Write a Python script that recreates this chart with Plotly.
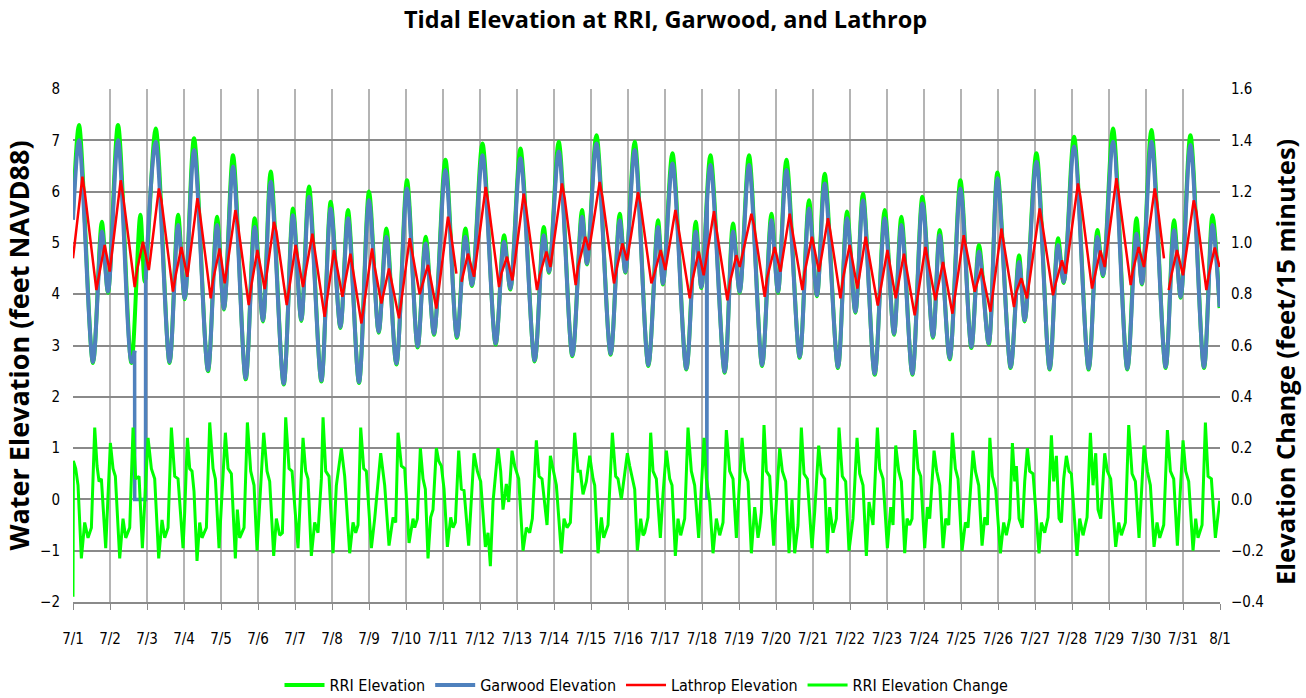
import plotly.graph_objects as go

# ---------------- data (x = days since 7/1 00:00) ----------------
DAY_LABELS = [f"7/{d}" for d in range(1, 32)] + ["8/1"]

# Garwood elevation, ft NAVD88 (high/low turning points); None = missing record
garwood_day = [0.00, 0.163, 0.54, 0.78, 0.946, 1.216, 1.578, 1.665, None, 1.963, 2.235, 2.61, 2.84, 3.02,
               3.271, 3.649, 3.892, 4.081, 4.324, 4.668, 4.911, 5.135, 5.343, 5.695, 5.946, 6.17,
               6.378, 6.713, 6.965, 7.227, 7.432, 7.73, 8.0, 8.262, 8.47, 8.74, 9.027, 9.315,
               9.532, 9.757, 10.065, 10.378, 10.605, 10.784, 11.065, 11.424, 11.65, 11.82, 12.092,
               12.478, 12.722, 12.865, 13.127, 13.497, 13.757, 13.892, 14.146, 14.532, 14.776,
               14.93, 15.181, 15.55, 15.811, 15.946, 16.2, 16.578, 16.83, 16.984, 17.227, 17.614,
               17.838, 18.019, 18.27, 18.625, 18.876, 19.054, 19.281, 19.641, 19.892, 20.108,
               20.316, 20.676, 20.919, 21.146, 21.351, 21.668, 21.938, 22.19, 22.389, 22.686,
               22.957, 23.243, 23.424, 23.695, 23.984, 24.281, 24.486, 24.75, 24.984, 25.343,
               25.568, 25.722, 26.038, 26.397, 26.622, 26.776, 27.054, 27.451, 27.686, 27.838,
               28.108, 28.497, 28.741, 28.892, 29.146, 29.532, 29.757, 29.938, 30.2, 30.568,
               30.795, 30.99]
garwood_ft = [5.45, 7.0, 2.68, 5.22, 4.05, 7.0, 2.68, 2.9, None, 4.3, 6.97, 2.68, 5.35, 3.92,
              6.81, 2.52, 5.35, 3.72, 6.49, 2.36, 5.31, 3.49, 6.19, 2.26, 5.54, 3.5,
              5.9, 2.32, 5.67, 3.36, 5.48, 2.29, 5.83, 3.27, 5.12, 2.65, 6.06, 2.98,
              4.99, 3.23, 6.42, 3.17, 5.12, 4.18, 6.71, 3.04, 5.02, 4.11, 6.65,
              2.71, 5.15, 4.44, 6.78, 2.81, 5.51, 4.6, 6.94, 2.84, 5.44,
              4.44, 6.81, 2.62, 5.31, 4.21, 6.55, 2.55, 5.22, 4.14, 6.52, 2.49,
              5.22, 4.05, 6.52, 2.62, 5.44, 4.05, 6.42, 2.78, 5.67, 3.98,
              6.16, 2.58, 5.48, 3.66, 5.83, 2.45, 5.48, 3.23, 5.35, 2.45,
              5.77, 3.17, 5.15, 2.75, 6.06, 2.97, 4.83, 3.04, 6.26, 2.58,
              4.63, 3.49, 6.58, 2.55, 4.96, 4.24, 6.88, 2.55, 5.12, 4.37,
              6.97, 2.55, 5.18, 4.21, 6.97, 2.58, 5.25, 3.95, 6.91, 2.58,
              5.35, 3.75]

# Garwood sensor dropouts (readings of zero)
dropout_day = [1.665, 1.668, 1.960, 1.963, None, 17.122, 17.132, 17.142]
dropout_ft = [2.9, 0.0, 0.0, 4.3, None, 5.6, 0.0, 5.9]

# RRI elevation, ft NAVD88 (turning points)
rri_day = [0.00, 0.163, 0.54, 0.78, 0.946, 1.216, 1.578, 1.82, 1.94, 2.235, 2.61, 2.84, 3.02,
           3.271, 3.649, 3.892, 4.081, 4.324, 4.668, 4.911, 5.135, 5.343, 5.695, 5.946, 6.17,
           6.378, 6.713, 6.965, 7.227, 7.432, 7.73, 8.0, 8.262, 8.47, 8.74, 9.027, 9.315,
           9.532, 9.757, 10.065, 10.378, 10.605, 10.784, 11.065, 11.424, 11.65, 11.82, 12.092,
           12.478, 12.722, 12.865, 13.127, 13.497, 13.757, 13.892, 14.146, 14.532, 14.776,
           14.93, 15.181, 15.55, 15.811, 15.946, 16.2, 16.578, 16.83, 16.984, 17.227, 17.614,
           17.838, 18.019, 18.27, 18.625, 18.876, 19.054, 19.281, 19.641, 19.892, 20.108,
           20.316, 20.676, 20.919, 21.146, 21.351, 21.668, 21.938, 22.19, 22.389, 22.686,
           22.957, 23.243, 23.424, 23.695, 23.984, 24.281, 24.486, 24.75, 24.984, 25.343,
           25.568, 25.722, 26.038, 26.397, 26.622, 26.776, 27.054, 27.451, 27.686, 27.838,
           28.108, 28.497, 28.741, 28.892, 29.146, 29.532, 29.757, 29.938, 30.2, 30.568,
           30.795, 30.99]
rri_ft = [5.6, 7.3, 2.66, 5.41, 4.03, 7.3, 2.66, 5.55, 4.24, 7.23, 2.66, 5.55, 3.9,
          7.04, 2.5, 5.51, 3.7, 6.71, 2.34, 5.48, 3.47, 6.39, 2.24, 5.67, 3.48,
          6.1, 2.3, 5.8, 3.34, 5.64, 2.27, 6.0, 3.25, 5.28, 2.63, 6.22, 2.96,
          5.12, 3.21, 6.62, 3.15, 5.28, 4.16, 6.94, 3.02, 5.15, 4.09, 6.84,
          2.69, 5.31, 4.42, 6.97, 2.79, 5.64, 4.58, 7.1, 2.82, 5.57,
          4.42, 6.97, 2.6, 5.44, 4.19, 6.75, 2.53, 5.41, 4.12, 6.71, 2.47,
          5.38, 4.03, 6.71, 2.6, 5.57, 4.03, 6.62, 2.76, 5.83, 3.96,
          6.35, 2.56, 5.61, 3.64, 5.96, 2.43, 5.64, 3.21, 5.51, 2.43,
          5.9, 3.15, 5.25, 2.73, 6.22, 2.95, 4.96, 3.02, 6.37, 2.56,
          4.76, 3.47, 6.75, 2.53, 5.09, 4.22, 7.07, 2.53, 5.25, 4.35,
          7.23, 2.53, 5.48, 4.19, 7.2, 2.56, 5.44, 3.93, 7.1, 2.56,
          5.54, 3.73]

# Lathrop elevation, ft NAVD88; None = missing record
lathrop_day = [0.0, 0.254, 0.316, 0.632, 0.703, 0.857, 0.992, 1.289, 1.351, 1.667, 1.74, 1.89,
               2.05, 2.32, 2.389, 2.70, 2.776, 2.93, 3.09, 3.362, 3.424, 3.722, 3.784, 3.965,
               4.10, 4.389, 4.459, 4.749, 4.822, 4.984, 5.18, 5.432, 5.497, 5.776, 5.849, 6.019,
               6.216, 6.47, 6.8, 7.054, 7.281, 7.497, 7.795, 8.081, 8.154, 8.335, 8.54, 8.811,
               9.1, 9.37, 9.595, 9.82, 10.135, 10.208, 10.362, None, 10.5, 10.676, 10.838,
               11.154, 11.216, 11.514, 11.578, 11.73, 11.876, 12.181, 12.235, 12.54, 12.613,
               12.795, 12.903, 13.216, 13.289, 13.586, 13.649, 13.849, 13.949, 14.235, 14.308,
               14.622, 14.703, 14.849, 14.975, 15.27, 15.335, 15.632, 15.703, 15.884, 16.01,
               16.281, 16.351, 16.668, 16.741, 16.911, 17.046, 17.324, 17.389, 17.686, 17.757,
               17.93, 18.02, 18.335, 18.405, 18.695, 18.757, 18.965, 19.119, 19.37, 19.432,
               19.713, 19.776, 19.973, 20.162, 20.405, 20.47, 20.741, 20.811, 20.992, 21.2,
               21.424, 21.75, 22.011, 22.235, 22.459, 22.749, 23.038, 23.308, 23.514, 23.768,
               24.073, 24.37, 24.551, 24.795, 25.092, 25.432, 25.497, 25.632, 25.784, 26.127,
               26.189, 26.486, 26.559, 26.73, 26.83, 27.162, 27.227, 27.541, 27.614, 27.768,
               27.885, 28.2, 28.262, 28.586, 28.649, 28.803, 28.946, 29.235, 29.297, 29.486,
               None, 29.613, 29.686, 29.838, 30.0, 30.289, 30.362, 30.632, 30.695, 30.857, 30.99]
lathrop_ft = [4.7, 6.29, 6.0, 4.08, 4.37, 4.96, 4.44, 6.22, 5.93, 4.14, 4.5, 5.02,
              4.47, 6.06, 5.83, 4.05, 4.37, 4.92, 4.34, 5.87, 5.61, 3.92, 4.27, 4.89,
              4.21, 5.64, 5.35, 3.79, 4.18, 4.86, 4.10, 5.41, 5.22, 3.79, 4.14, 4.96,
              4.14, 5.18, 3.56, 4.86, 3.95, 4.79, 3.43, 4.89, 4.53, 3.82, 4.5, 3.53,
              5.09, 4.0, 4.57, 3.72, 5.51, 5.22, 4.40, None, 4.24, 4.79, 4.34,
              6.09, 5.83, 4.14, 4.4, 4.73, 4.27, 5.96, 5.74, 4.08, 4.37,
              4.83, 4.53, 6.16, 5.87, 4.18, 4.53, 5.12, 4.86, 6.19, 5.9,
              4.21, 4.53, 4.99, 4.66, 5.99, 5.77, 4.21, 4.37, 4.86, 4.47,
              5.64, 5.35, 3.92, 4.27, 4.83, 4.37, 5.62, 5.28, 3.88, 4.24,
              4.76, 4.53, 5.57, 5.35, 3.95, 4.31, 4.92, 4.44, 5.57, 5.28,
              4.08, 4.44, 5.12, 4.44, 5.48, 5.22, 3.92, 4.31, 4.96, 4.11,
              5.12, 3.78, 4.86, 3.92, 4.79, 3.59, 4.92, 3.88, 4.63, 3.62,
              5.15, 4.05, 4.5, 3.66, 5.28, 3.75, 4.05, 4.31, 3.92, 5.67,
              5.41, 3.98, 4.21, 4.66, 4.40, 6.16, 5.9, 4.11, 4.37, 4.85,
              4.53, 6.26, 5.96, 4.18, 4.47, 4.92, 4.53, 6.06, 5.81, 4.7,
              None, 4.08, 4.37, 4.86, 4.37, 5.83, 5.61, 4.08, 4.37, 4.91, 4.53]

# RRI elevation change, ft per 15 minutes
change_day = [0.0, 0.01, 0.073, 0.136, 0.226, 0.316, 0.406, 0.497, 0.587, 0.65, 0.704, 0.767, 0.884,
              1.01, 1.082, 1.145, 1.262, 1.352, 1.425, 1.533, 1.623, 1.695, 1.785, 1.875, 2.028,
              2.118, 2.208, 2.316, 2.406, 2.479, 2.569, 2.659, 2.749, 2.839, 2.974,
              3.019, 3.091, 3.154, 3.217, 3.271, 3.352, 3.424, 3.487, 3.605, 3.695, 3.785, 3.848,
              3.947, 4.118, 4.19, 4.28, 4.388, 4.442, 4.505, 4.623, 4.713, 4.803, 4.893, 4.974,
              5.154, 5.244, 5.316, 5.424, 5.496, 5.587, 5.659, 5.749, 5.839, 5.92, 6.082,
              6.217, 6.289, 6.352, 6.442, 6.532, 6.622, 6.713, 6.758, 6.83, 6.92, 7.028, 7.118,
              7.253, 7.343, 7.478, 7.568, 7.64, 7.704, 7.776, 7.857, 7.929, 8.064, 8.154, 8.316,
              8.424, 8.541, 8.65, 8.722, 8.785, 8.875, 8.965, 9.082, 9.19,
              9.235, 9.307, 9.388, 9.46, 9.523, 9.595, 9.667, 9.73, 9.821, 9.884, 9.956, 10.028,
              10.118, 10.208, 10.271, 10.334, 10.424, 10.496, 10.568, 10.694, 10.839, 10.929,
              11.019, 11.145, 11.217, 11.28, 11.352, 11.487, 11.559, 11.622, 11.712, 11.776,
              11.866, 11.938, 12.046, 12.163, 12.253,
              12.343, 12.415, 12.523, 12.595, 12.676, 12.775, 12.811, 12.902, 12.956, 13.064,
              13.199, 13.271, 13.352, 13.442, 13.559, 13.649, 13.712, 13.784, 13.874, 13.965,
              14.055, 14.1, 14.19, 14.28, 14.343, 14.46, 14.577, 14.667, 14.73, 14.82, 14.983,
              15.046, 15.181, 15.253, 15.343, 15.406,
              15.451, 15.541, 15.613, 15.676, 15.766, 15.874, 15.946, 16.037, 16.127, 16.19,
              16.28, 16.352, 16.424, 16.532, 16.622, 16.712, 16.802, 16.91, 17.055, 17.118,
              17.208, 17.298, 17.388, 17.478, 17.568, 17.658, 17.748, 17.838, 17.929, 18.082,
              18.154, 18.244, 18.334, 18.424, 18.514,
              18.559, 18.604, 18.676, 18.739, 18.829, 18.937, 19.009, 19.1, 19.172, 19.262,
              19.352, 19.433, 19.505, 19.595, 19.685, 19.757, 19.847, 19.973, 20.045, 20.154,
              20.226, 20.316, 20.388, 20.451, 20.541, 20.631, 20.703, 20.793, 20.883, 20.973,
              21.081, 21.19, 21.262, 21.352, 21.442, 21.514, 21.622,
              21.74, 21.803, 21.893, 22.01, 22.1, 22.163, 22.236, 22.317, 22.389, 22.479,
              22.542, 22.614, 22.677, 22.749, 22.839, 22.911, 23.019, 23.091, 23.154, 23.272,
              23.344, 23.425, 23.515, 23.587, 23.668, 23.767, 23.848, 23.92, 24.028, 24.118,
              24.19, 24.326, 24.389, 24.479, 24.569, 24.641, 24.713,
              24.78, 24.848, 24.938, 25.064, 25.154, 25.226, 25.317, 25.389, 25.452, 25.497,
              25.569, 25.659, 25.722, 25.794, 25.857, 25.947, 26.109, 26.172, 26.262, 26.353,
              26.443, 26.506, 26.578, 26.65, 26.713, 26.776, 26.848, 26.92, 26.983, 27.136,
              27.208, 27.298, 27.407, 27.497, 27.569, 27.641, 27.704, 27.776,
              27.884, 27.956, 28.046, 28.181, 28.262, 28.334, 28.443, 28.533, 28.623, 28.713,
              28.812, 28.947, 29.037, 29.118, 29.217, 29.298, 29.371, 29.479, 29.578, 29.659,
              29.749, 29.848, 30.001, 30.073, 30.154, 30.271, 30.343, 30.406, 30.515, 30.605,
              30.677, 30.767, 30.875, 30.992]
change_ft = [-0.38, 0.15, 0.12, 0.055, -0.23, -0.09, -0.15, -0.11, 0.28, 0.13, 0.07, 0.08, -0.19,
             0.22, 0.12, 0.09, -0.23, -0.075, -0.15, -0.11, 0.28, 0.08, 0.09, -0.19, 0.24,
             0.12, 0.08, -0.23, -0.08, -0.15, -0.11, 0.28, 0.09, 0.08, -0.19,
             -0.05, 0.24, 0.12, 0.11, 0.03, -0.24, -0.09, -0.15, -0.11, 0.30, 0.12, 0.08,
             -0.19, 0.26, 0.12, 0.10, -0.23, -0.04, -0.15, -0.11, 0.30, 0.11, 0.055, -0.20,
             0.26, 0.11, 0.07, -0.22, -0.075, -0.14, -0.13, 0.32, 0.12, 0.11, -0.19,
             0.24, 0.11, 0.08, -0.22, -0.09, -0.13, 0.08, 0.32, 0.11, 0.09, -0.21, 0.055,
             0.20, 0.09, -0.21, -0.09, -0.13, -0.10, 0.28, 0.12, 0.11, -0.19, -0.075, 0.18,
             0.055, -0.18, -0.07, -0.09, 0.26, 0.13, 0.12, -0.17, -0.075,
             -0.11, -0.075, 0.20, 0.08, 0.04, -0.23, -0.07, -0.04, 0.20, 0.15, 0.13, 0.04,
             -0.185, -0.07, -0.11, -0.09, 0.19, 0.04, 0.035, -0.18, 0.18, 0.11,
             0.07, -0.185, -0.13, -0.26, -0.01, 0.20, 0.11, -0.04, 0.06, -0.01,
             0.19, 0.13, 0.08, -0.20, -0.11,
             -0.13, -0.075, 0.23, 0.09, 0.08, -0.04, -0.10, 0.17, 0.13, 0.055,
             -0.21, -0.075, -0.11, -0.09, 0.26, 0.11, 0.11, 0.02, 0.07, 0.17,
             0.08, 0.055, -0.21, -0.07, -0.15, -0.10, 0.26, 0.09, 0.08, 0.0, 0.18,
             0.13, 0.04, -0.20, -0.075, -0.14,
             -0.13, -0.07, 0.26, 0.11, 0.08, -0.15, 0.02, 0.19, 0.08, 0.055,
             -0.22, -0.075, -0.14, -0.075, 0.28, 0.11, 0.055, -0.15, 0.24, 0.08,
             -0.01, -0.21, -0.075, -0.14, -0.09, 0.27, 0.11, 0.08, -0.15, 0.24,
             0.11, 0.07, -0.21, -0.03, -0.15,
             -0.11, -0.05, 0.29, 0.11, 0.09, -0.18, -0.01, 0.20, 0.11, 0.07,
             -0.21, 0.0, -0.21, -0.10, 0.28, 0.10, 0.08, -0.19, -0.05, 0.21,
             0.10, 0.08, -0.21, -0.03, -0.13, -0.075, 0.28, 0.09, 0.07, -0.20,
             -0.075, 0.24, 0.10, 0.055, -0.22, -0.01, -0.10,
             0.28, 0.12, 0.08, -0.19, -0.03, -0.10, 0.21, 0.11, 0.07, -0.21,
             -0.075, -0.10, -0.075, 0.27, 0.12, 0.09, -0.19, -0.03, -0.075, 0.19,
             0.11, 0.055, -0.19, -0.075, -0.10, 0.26, 0.12, 0.08, -0.20, -0.09,
             -0.11, 0.19, 0.11, 0.055, -0.18, -0.07, -0.10,
             0.24, 0.09, 0.04, -0.21, -0.09, -0.14, -0.075, 0.22, 0.07, 0.13,
             -0.075, -0.11, 0.07, 0.20, 0.11, 0.10, -0.21, -0.09, -0.13, -0.07,
             0.25, 0.07, 0.17, -0.075, -0.09, 0.08, 0.17, 0.11, 0.10, -0.22,
             -0.075, -0.14, -0.07, 0.26, 0.055, 0.18, -0.04, -0.075,
             0.18, 0.11, 0.08, -0.185, -0.09, -0.14, -0.09, 0.29, 0.10, 0.07,
             -0.15, 0.21, 0.11, 0.055, -0.185, -0.09, -0.15, -0.10, 0.27, 0.11,
             0.08, -0.18, 0.23, 0.11, 0.07, -0.20, -0.075, -0.15, -0.10, 0.30,
             0.09, 0.08, -0.15, -0.005]

# ---------------- styling ----------------
GREEN = "#00FF00"
BLUE = "#4F81BD"
RED = "#FF0000"
TICK_FONT = dict(family="DejaVu Sans Condensed, Roboto, sans-serif", size=15, color="#000000")
TITLE_FAMILY = "Open Sans, DejaVu Sans, sans-serif"

fig = go.Figure()

fig.add_trace(go.Scatter(x=rri_day, y=rri_ft, name="RRI Elevation", mode="lines",
                         line=dict(color=GREEN, width=4, shape="spline", smoothing=0.9)))
fig.add_trace(go.Scatter(x=garwood_day, y=garwood_ft, name="Garwood Elevation", mode="lines",
                         connectgaps=False,
                         line=dict(color=BLUE, width=4, shape="spline", smoothing=0.9)))
fig.add_trace(go.Scatter(x=dropout_day, y=dropout_ft, name="Garwood Elevation", mode="lines",
                         showlegend=False, connectgaps=False,
                         line=dict(color=BLUE, width=3.5)))
fig.add_trace(go.Scatter(x=lathrop_day, y=lathrop_ft, name="Lathrop Elevation", mode="lines",
                         connectgaps=False, line=dict(color=RED, width=2.5)))
fig.add_trace(go.Scatter(x=change_day, y=change_ft, name="RRI Elevation Change", mode="lines",
                         yaxis="y2", line=dict(color=GREEN, width=3)))

fig.update_layout(
    width=1306, height=698,
    margin=dict(l=73, r=86, t=89, b=96, autoexpand=False),
    paper_bgcolor="white", plot_bgcolor="white",
    title=dict(text="<b>Tidal Elevation at RRI, Garwood, and Lathrop</b>",
               xref="container", x=0.5096, xanchor="center", y=0.971, yanchor="middle",
               font=dict(family=TITLE_FAMILY, size=23.5, color="#000000")),
    xaxis=dict(range=[0, 31], tickmode="array", tickvals=list(range(32)), ticktext=DAY_LABELS,
               showgrid=True, gridcolor="#b4b4b4", gridwidth=1.5,
               showline=True, linecolor="#8a8a8a", linewidth=1.5,
               ticks="outside", ticklen=6, tickcolor="#8a8a8a", ticklabelstandoff=16,
               tickfont=TICK_FONT, zeroline=False),
    yaxis=dict(range=[-2, 8], dtick=1, tick0=0, showgrid=True, gridcolor="#8a8a8a", gridwidth=1.5,
               zeroline=False, showline=False, ticks="", ticklabelstandoff=12,
               tickfont=TICK_FONT,
               title=dict(text="<b>Water Elevation (feet NAVD88)</b>", standoff=6,
                          font=dict(family=TITLE_FAMILY, size=27, color="#000000"))),
    yaxis2=dict(range=[-0.4, 1.6], dtick=0.2, tick0=0, tickformat=".1f", overlaying="y", side="right",
                showgrid=False, zeroline=False, showline=False, ticks="", ticklabelstandoff=10,
                tickfont=TICK_FONT),
    legend=dict(orientation="h", x=0.5, xanchor="center", y=-0.162, yanchor="middle",
                font=dict(family="DejaVu Sans Condensed, Roboto, sans-serif", size=16,
                          color="#000000"),
                itemwidth=40, tracegroupgap=0),
    showlegend=True,
)

# secondary axis title, placed beside the right tick labels
fig.add_annotation(text="<b>Elevation Change (feet/15 minutes)</b>", textangle=-90,
                   xref="paper", yref="paper", x=1.0567, y=0.468,
                   xanchor="center", yanchor="middle", showarrow=False,
                   font=dict(family=TITLE_FAMILY, size=25.5, color="#000000"))

fig.write_html("out.html")
